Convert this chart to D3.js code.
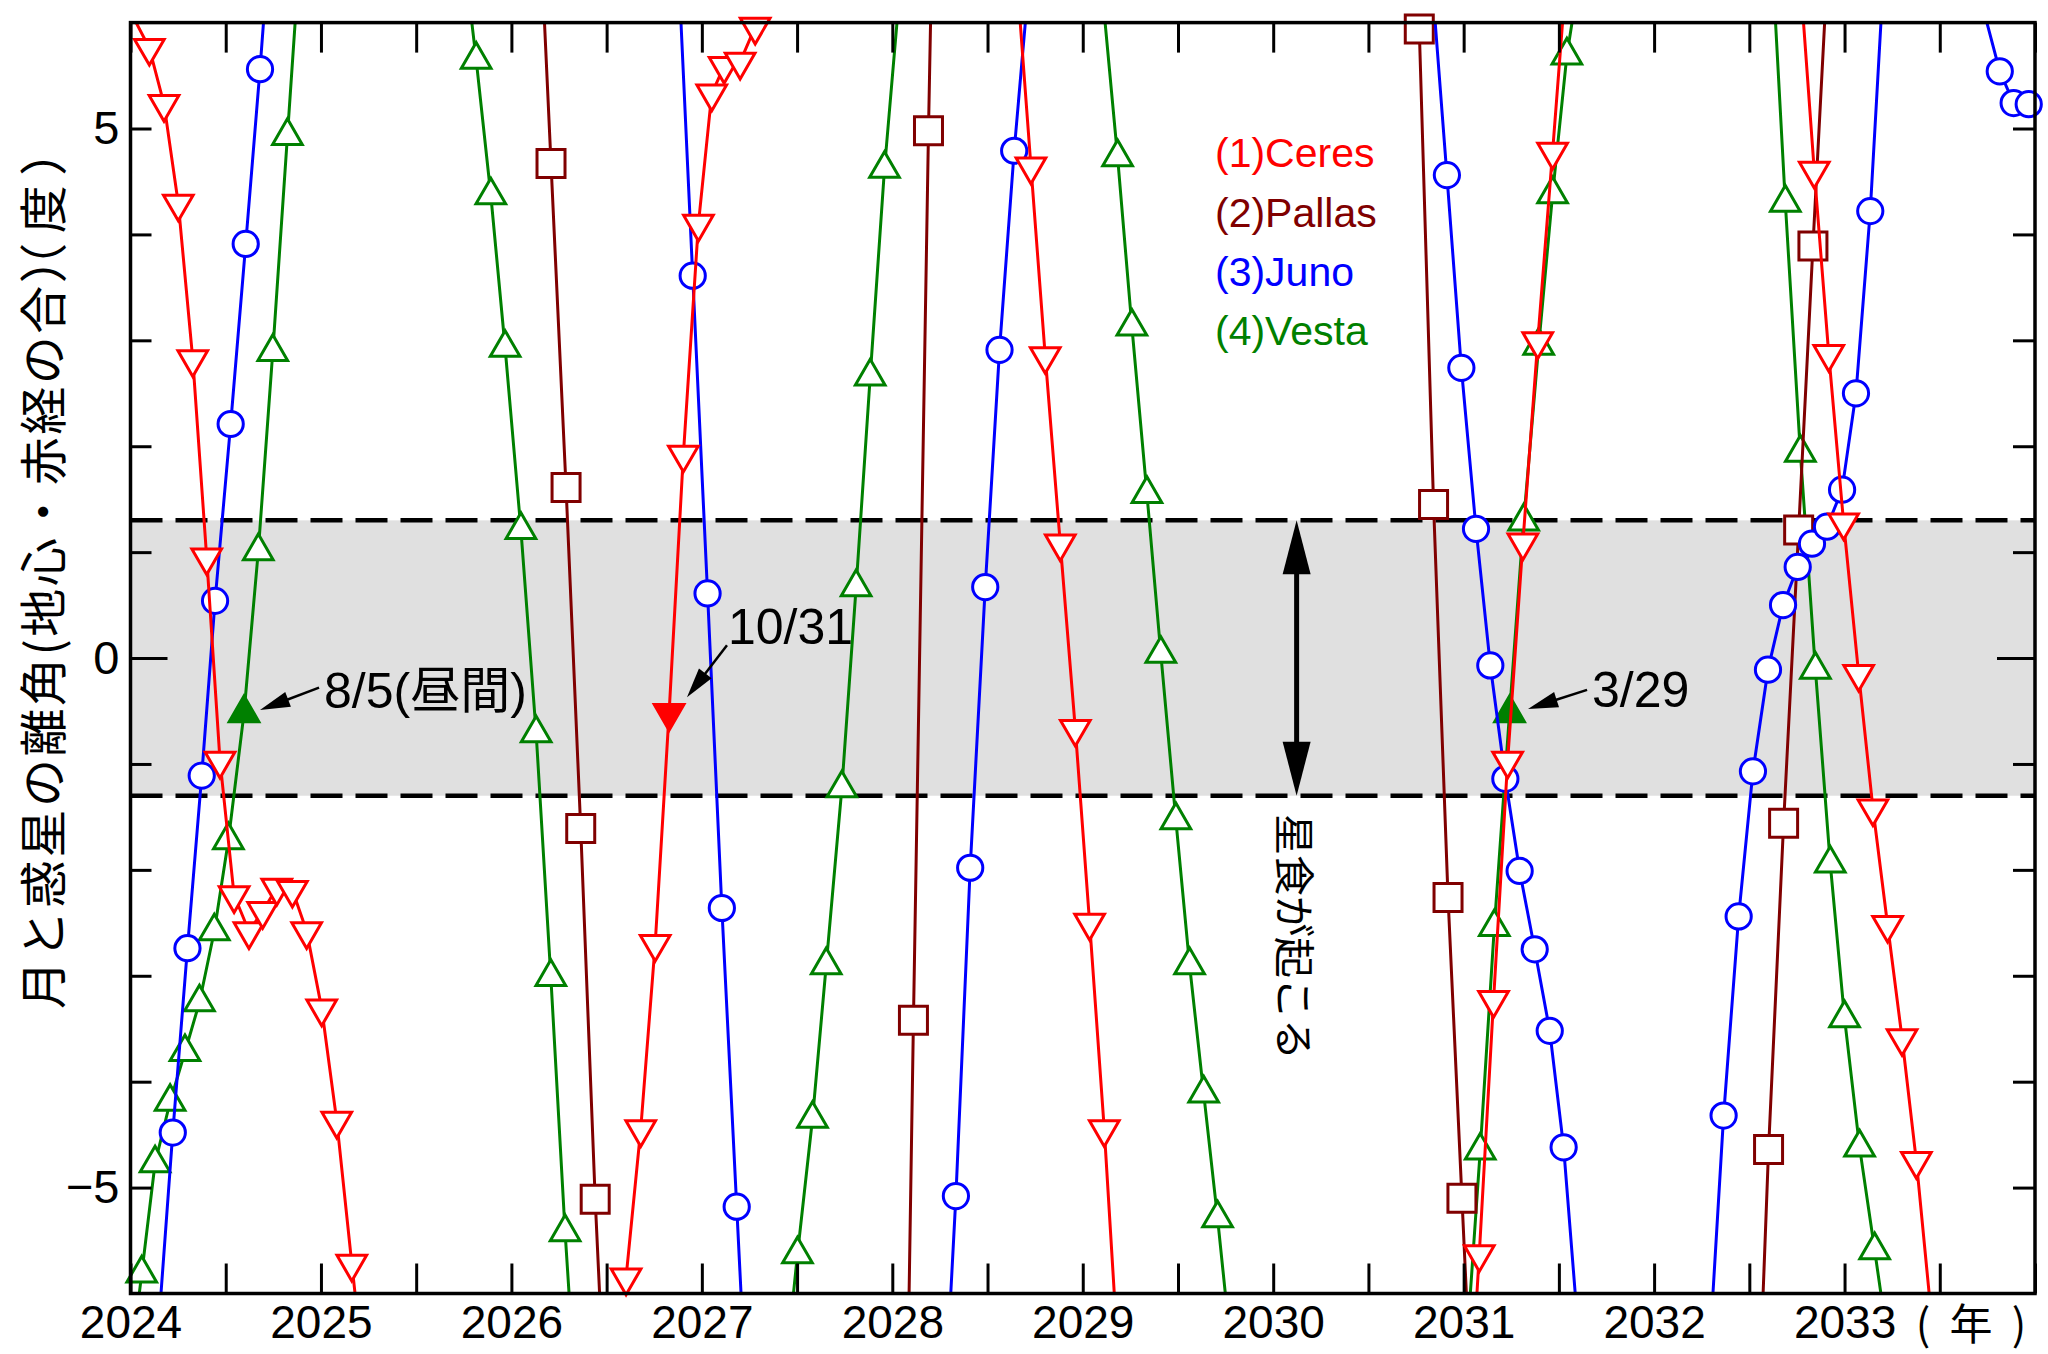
<!DOCTYPE html>
<html><head><meta charset="utf-8">
<script src="https://cdn.jsdelivr.net/npm/d3@7"></script>
<style>body{margin:0;background:#fff}svg{display:block}</style>
</head><body>
<svg id="chart" width="2048" height="1354"></svg>
<script>
// ---------------- data ----------------
const xTickValues = d3.range(2024, 2034.001, 0.5);
const yearLabels = [2024, 2025, 2026, 2027, 2028, 2029, 2030, 2031, 2032, 2033];
const yTickValues = [-5, -4, -3, -2, -1, 0, 1, 2, 3, 4, 5];
const yLabelValues = [-5, 0, 5];
const occultationLimit = 1.3;
const seriesNames = ["(1)Ceres", "(2)Pallas", "(3)Juno", "(4)Vesta"];

// each pass: [year, separation(deg)], first/last points lie outside the frame
const ceres = [
  [[2024.015,6.05],[2024.099,5.76],[2024.176,5.23],[2024.251,4.29],[2024.327,2.82],[2024.400,0.95],[2024.470,-0.97],[2024.544,-2.24],[2024.622,-2.58],[2024.694,-2.39],[2024.768,-2.17],[2024.850,-2.19],[2024.925,-2.58],[2025.004,-3.31],[2025.083,-4.37],[2025.162,-5.72],[2025.240,-7.0]],
  [[2026.525,-7.25],[2026.602,-5.85],[2026.679,-4.45],[2026.755,-2.70],[2026.828,-0.52],[2026.903,1.92],[2026.982,4.10],[2027.052,5.33],[2027.117,5.59],[2027.201,5.63],[2027.280,5.96],[2027.360,6.6]],
  [[2028.653,6.45],[2028.728,4.64],[2028.803,2.85],[2028.882,1.08],[2028.961,-0.67],[2029.036,-2.50],[2029.113,-4.45],[2029.190,-6.72]],
  [[2031.007,-7.9],[2031.082,-5.63],[2031.157,-3.23],[2031.231,-0.97],[2031.311,1.09],[2031.389,2.99],[2031.467,4.78],[2031.545,6.6]],
  [[2032.766,6.46],[2032.841,4.60],[2032.917,2.87],[2032.995,1.28],[2033.074,-0.15],[2033.149,-1.42],[2033.226,-2.52],[2033.302,-3.59],[2033.377,-4.75],[2033.455,-6.2]]
];
const pallas = [
  [[2026.130,7.7],[2026.208,4.67],[2026.287,1.61],[2026.364,-1.61],[2026.440,-5.11],[2026.515,-8.0]],
  [[2028.035,-12.0],[2028.111,-3.42],[2028.190,4.98],[2028.270,12.5]],
  [[2030.692,10.4],[2030.767,5.94],[2030.842,1.45],[2030.918,-2.26],[2030.991,-5.10],[2031.066,-8.0]],
  [[2032.526,-8.2],[2032.601,-4.64],[2032.680,-1.56],[2032.759,1.21],[2032.834,3.89],[2032.910,6.5]]
];
const juno = [
  [[2024.147,-6.32],[2024.222,-4.48],[2024.299,-2.74],[2024.374,-1.11],[2024.444,0.54],[2024.526,2.21],[2024.605,3.91],[2024.680,5.56],[2024.755,7.36]],
  [[2026.875,6.6],[2026.952,3.61],[2027.030,0.61],[2027.105,-2.36],[2027.183,-5.18],[2027.260,-7.95]],
  [[2028.260,-7.6],[2028.334,-5.08],[2028.409,-1.98],[2028.488,0.67],[2028.563,2.91],[2028.640,4.79],[2028.715,6.34]],
  [[2030.837,6.32],[2030.912,4.56],[2030.988,2.74],[2031.065,1.22],[2031.140,-0.07],[2031.219,-1.14],[2031.294,-2.01],[2031.373,-2.75],[2031.452,-3.52],[2031.525,-4.62],[2031.600,-6.32]],
  [[2032.290,-6.57],[2032.365,-4.32],[2032.444,-2.44],[2032.519,-1.07],[2032.598,-0.11],[2032.677,0.50],[2032.754,0.86],[2032.829,1.08],[2032.908,1.24],[2032.987,1.59],[2033.060,2.50],[2033.135,4.22],[2033.210,6.6]],
  [[2033.740,6.05],[2033.815,5.54],[2033.888,5.24],[2033.967,5.23],[2034.040,5.5]]
];
const vesta = [
  [[2023.985,-6.9],[2024.059,-5.81],[2024.129,-4.77],[2024.208,-4.19],[2024.286,-3.72],[2024.362,-3.25],[2024.440,-2.58],[2024.514,-1.72],[2024.596,-0.52],[2024.671,1.01],[2024.747,2.89],[2024.824,4.93],[2024.900,6.94]],
  [[2025.740,6.8],[2025.815,5.65],[2025.892,4.37],[2025.967,2.93],[2026.050,1.21],[2026.130,-0.71],[2026.207,-3.01],[2026.282,-5.42],[2026.360,-7.6]],
  [[2027.426,-6.97],[2027.502,-5.63],[2027.581,-4.35],[2027.653,-2.90],[2027.735,-1.23],[2027.810,0.67],[2027.884,2.66],[2027.959,4.62],[2028.035,6.22]],
  [[2029.107,6.2],[2029.183,4.73],[2029.258,3.13],[2029.337,1.55],[2029.410,0.04],[2029.489,-1.53],[2029.561,-2.90],[2029.635,-4.11],[2029.708,-5.29],[2029.783,-6.6]],
  [[2031.012,-6.6],[2031.087,-4.65],[2031.161,-2.54],[2031.241,-0.52],[2031.315,1.29],[2031.394,2.95],[2031.467,4.38],[2031.542,5.69],[2031.617,6.55]],
  [[2032.612,6.85],[2032.689,4.30],[2032.768,1.94],[2032.847,-0.11],[2032.925,-1.94],[2033.000,-3.40],[2033.079,-4.62],[2033.158,-5.59],[2033.235,-6.55]]
];
// occultation events (filled markers) with labels
const eventSeries = [3, 0, 3];
const eventYears = [2024.596, 2026.828, 2031.241];
const eventLabels = ["8/5(昼間)", "10/31", "3/29"];
// label anchor / arrow tail / arrow tip, in data units
const eventTextPos = [[2025.016,-0.30],[2027.137,0.30],[2031.674,-0.29]];
const eventArrowTail = [[2024.990,-0.28],[2027.132,0.12],[2031.648,-0.30]];
const eventArrowTip = [[2024.680,-0.49],[2026.922,-0.37],[2031.338,-0.48]];
const bandArrowYear = 2030.123;

// ---------------- drawing ----------------
const svg = d3.select("#chart");
const L = 130.5, R = 2035, T = 22.6, B = 1293.5;
const x = d3.scaleLinear().domain([2024, 2034]).range([L, R]);
const y = d3.scaleLinear().domain([-6, 6]).range([B, T]);
const latin = "'Liberation Sans', Arial, 'Noto Sans CJK JP', sans-serif";
const cjk = "'Noto Sans CJK JP', 'Noto Sans CJK SC', sans-serif";

svg.append("rect").attr("width", 2048).attr("height", 1354).attr("fill", "#fff");
svg.append("defs").append("clipPath").attr("id", "plotclip")
  .append("rect").attr("x", L).attr("y", T).attr("width", R - L).attr("height", B - T);

// band
svg.append("rect").attr("x", L).attr("width", R - L)
  .attr("y", y(occultationLimit)).attr("height", y(-occultationLimit) - y(occultationLimit))
  .attr("fill", "#e0e0e0");
[occultationLimit, -occultationLimit].forEach(v => {
  svg.append("line").attr("x1", L).attr("x2", R).attr("y1", y(v)).attr("y2", y(v))
    .attr("stroke", "#000").attr("stroke-width", 4.5).attr("stroke-dasharray", "32,13");
});

// series
const allSeries = [ceres, pallas, juno, vesta];
const colors = ["#ff0000", "#800000", "#0000ff", "#008000"];
const symbols = [
  {type: d3.symbolTriangle, size: 380, rot: 180},
  {type: d3.symbolSquare, size: 784, rot: 0},
  {type: d3.symbolCircle, size: 500, rot: 0},
  {type: d3.symbolTriangle, size: 380, rot: 0}
];
const line = d3.line().x(d => x(d[0])).y(d => y(d[1]));
const drawOrder = [3, 1, 2, 0];
drawOrder.forEach(si => {
  const g = svg.append("g");
  const gl = g.append("g").attr("clip-path", "url(#plotclip)");
  allSeries[si].forEach(pass => {
    gl.append("path").attr("d", line(pass)).attr("fill", "none")
      .attr("stroke", colors[si]).attr("stroke-width", 3).attr("stroke-linejoin", "round");
  });
  const pts = allSeries[si].flat().filter(d => d[0] >= 2024 && d[0] <= 2034 && d[1] >= -6 && d[1] <= 6);
  const sym = d3.symbol().type(symbols[si].type).size(symbols[si].size);
  g.selectAll("path.m").data(pts).join("path").attr("class", "m")
    .attr("d", sym)
    .attr("transform", d => `translate(${x(d[0])},${y(d[1])}) rotate(${symbols[si].rot})`)
    .attr("fill", d => eventYears.some((ey, k) => eventSeries[k] === si && Math.abs(ey - d[0]) < 0.002) ? colors[si] : "#fff")
    .attr("stroke", colors[si]).attr("stroke-width", 3);
});

// frame & ticks
function styleAxis(g) {
  g.selectAll(".domain").remove();
  g.selectAll(".tick line").attr("stroke", "#000").attr("stroke-width", 3);
}
svg.append("g").attr("transform", `translate(0,${B})`)
  .call(d3.axisBottom(x).tickValues(xTickValues).tickSizeInner(-30).tickSizeOuter(0).tickFormat(""))
  .call(styleAxis);
svg.append("g").attr("transform", `translate(0,${T})`)
  .call(d3.axisTop(x).tickValues(xTickValues).tickSizeInner(-30).tickSizeOuter(0).tickFormat(""))
  .call(styleAxis);
const gl = svg.append("g").attr("transform", `translate(${L},0)`)
  .call(d3.axisLeft(y).tickValues(yTickValues).tickSizeInner(-21).tickSizeOuter(0).tickFormat(""))
  .call(styleAxis);
gl.selectAll(".tick").filter(d => d === 0).select("line").attr("x2", 37);
const gr = svg.append("g").attr("transform", `translate(${R},0)`)
  .call(d3.axisRight(y).tickValues(yTickValues).tickSizeInner(-22).tickSizeOuter(0).tickFormat(""))
  .call(styleAxis);
gr.selectAll(".tick").filter(d => d === 0).select("line").attr("x2", -38);
svg.append("rect").attr("x", L).attr("y", T).attr("width", R - L).attr("height", B - T)
  .attr("fill", "none").attr("stroke", "#000").attr("stroke-width", 3.5);

// tick labels
const gxl = svg.append("g").attr("transform", `translate(0,${B})`)
  .call(d3.axisBottom(x).tickValues(yearLabels).tickSize(0).tickPadding(12).tickFormat(d3.format("d")));
gxl.select(".domain").remove();
gxl.selectAll("text").attr("font-family", latin).attr("font-size", 46).attr("fill", "#000");
const gyl = svg.append("g").attr("transform", `translate(${L},0)`)
  .call(d3.axisLeft(y).tickValues(yLabelValues).tickSize(0).tickPadding(11).tickFormat(d3.format("d")));
gyl.select(".domain").remove();
gyl.selectAll("text").attr("font-family", latin).attr("font-size", 47).attr("fill", "#000");

// axis titles
const yTitle = svg.append("text").attr("transform", "translate(40,567) rotate(-90)")
  .attr("text-anchor", "middle").attr("dominant-baseline", "central")
  .attr("letter-spacing", 2.5)
  .attr("font-family", cjk).attr("font-size", 48).attr("fill", "#000");
[["月と惑星の離角(地心・赤経の合）", 0], ["（", -34], ["度", 7], ["）", 7]].forEach(([t, dx]) => {
  yTitle.append("tspan").attr("dx", dx).text(t);
});
const unitText = svg.append("text").attr("y", 1321)
  .attr("text-anchor", "middle").attr("dominant-baseline", "central")
  .attr("font-family", cjk).attr("font-size", 43).attr("fill", "#000");
[["(", 1923], ["年", 1971], [")", 2019]].forEach(([t, px]) => {
  unitText.append("tspan").attr("x", px).attr("text-anchor", "middle").text(t);
});

// legend
seriesNames.forEach((n, i) => {
  svg.append("text").attr("x", 1215).attr("y", 153 + i * 59.2).attr("dy", "0.35em")
    .attr("font-family", latin).attr("font-size", 41).attr("fill", colors[i]).text(n);
});

// double arrow for occultation band
function arrowHead(x1, y1, x2, y2, len, half) {
  const dx = x2 - x1, dy = y2 - y1, d = Math.hypot(dx, dy), ux = dx / d, uy = dy / d;
  const bx = x2 - ux * len, by = y2 - uy * len;
  return `M${x2},${y2}L${bx - uy * half},${by + ux * half}L${bx + uy * half},${by - ux * half}Z`;
}
const ax = x(bandArrowYear), ay1 = y(occultationLimit), ay2 = y(-occultationLimit);
svg.append("line").attr("x1", ax).attr("x2", ax).attr("y1", ay1 + 40).attr("y2", ay2 - 40)
  .attr("stroke", "#000").attr("stroke-width", 5);
svg.append("path").attr("d", arrowHead(ax, ay2, ax, ay1, 54, 14)).attr("fill", "#000");
svg.append("path").attr("d", arrowHead(ax, ay1, ax, ay2, 54, 14)).attr("fill", "#000");
svg.append("text").attr("transform", `translate(${ax},814) rotate(90)`)
  .attr("text-anchor", "start").attr("dominant-baseline", "central")
  .attr("font-family", cjk).attr("font-size", 41).attr("fill", "#000").text("星食が起こる");

// event annotations
eventLabels.forEach((lab, i) => {
  const tx = x(eventArrowTail[i][0]), ty = y(eventArrowTail[i][1]);
  const px = x(eventArrowTip[i][0]), py = y(eventArrowTip[i][1]);
  const d = Math.hypot(px - tx, py - ty);
  svg.append("line").attr("x1", tx).attr("y1", ty)
    .attr("x2", px - (px - tx) / d * 24).attr("y2", py - (py - ty) / d * 24)
    .attr("stroke", "#000").attr("stroke-width", 2.5);
  svg.append("path").attr("d", arrowHead(tx, ty, px, py, 30, 8)).attr("fill", "#000");
  svg.append("text").attr("x", x(eventTextPos[i][0])).attr("y", y(eventTextPos[i][1]))
    .attr("dy", "0.36em").attr("font-family", latin).attr("font-size", 50).attr("fill", "#000")
    .text(lab);
});
</script>
</body></html>
